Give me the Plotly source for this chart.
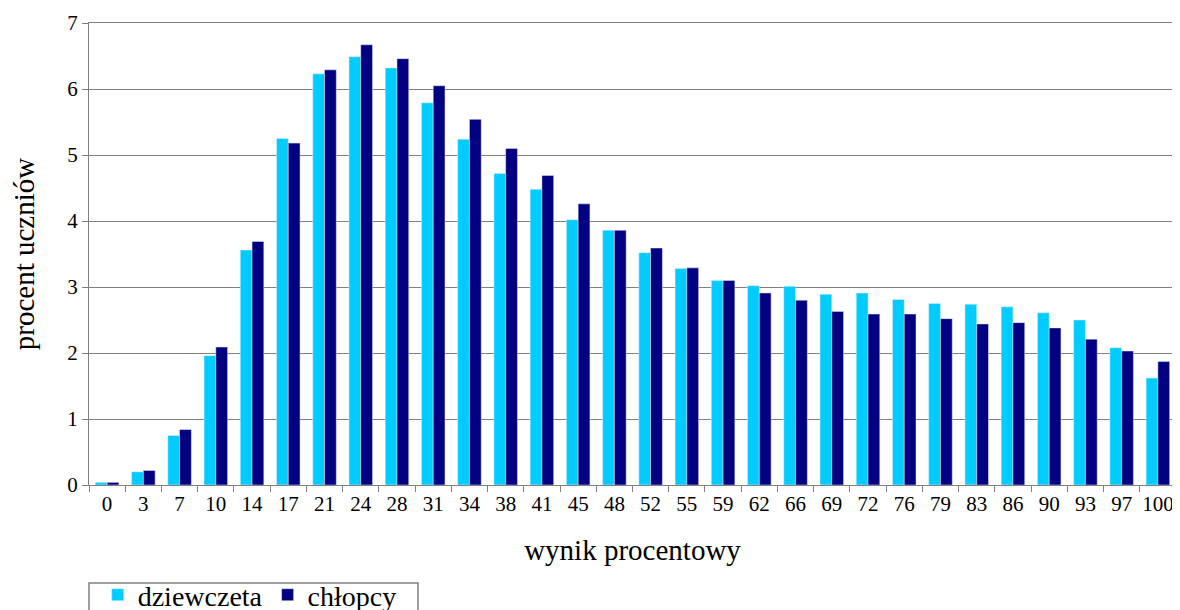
import plotly.graph_objects as go

# wynik procentowy (x categories)
wyniki = ["0", "3", "7", "10", "14", "17", "21", "24", "28", "31", "34", "38", "41", "45", "48",
          "52", "55", "59", "62", "66", "69", "72", "76", "79", "83", "86", "90", "93", "97", "100"]

# procent uczniów
dziewczeta = [0.04, 0.20, 0.75, 1.96, 3.56, 5.25, 6.23, 6.49, 6.32, 5.79, 5.24, 4.72, 4.48, 4.02, 3.86,
              3.52, 3.28, 3.10, 3.02, 3.01, 2.89, 2.91, 2.81, 2.75, 2.74, 2.70, 2.61, 2.50, 2.08, 1.62]
chlopcy = [0.04, 0.22, 0.84, 2.09, 3.69, 5.18, 6.29, 6.67, 6.46, 6.05, 5.54, 5.10, 4.69, 4.26, 3.86,
           3.59, 3.29, 3.10, 2.91, 2.80, 2.63, 2.59, 2.59, 2.52, 2.44, 2.46, 2.38, 2.21, 2.03, 1.87]

FONT = "Liberation Serif, Times New Roman, serif"

fig = go.Figure()
fig.add_trace(go.Bar(x=wyniki, y=dziewczeta, name="dziewczeta", marker_color="#00CCFF"))
fig.add_trace(go.Bar(x=wyniki, y=chlopcy, name="chłopcy", marker_color="#000080"))

# the page is drawn with an 8px body margin, so positions are shifted by that
fig.update_layout(
    width=1180, height=610,
    margin=dict(l=81, r=12, t=15, b=133, autoexpand=False),
    paper_bgcolor="white", plot_bgcolor="white",
    barmode="group", bargap=0.35, bargroupgap=0,
    font=dict(family=FONT, size=19, color="black"),
    showlegend=True,
    legend=dict(
        orientation="h", x=0.008, xanchor="left", y=-0.184, yanchor="top",
        borderwidth=0, bgcolor="rgba(0,0,0,0)",
        font=dict(family=FONT, size=28, color="black"),
        itemwidth=30, tracegroupgap=0,
    ),
    # box round the legend, cut by the lower edge as in the source
    shapes=[dict(type="rect", xref="paper", yref="paper", x0=0.0, x1=0.3027, y0=-0.32, y1=-0.2121,
                 line=dict(color="#808080", width=1.5), fillcolor="rgba(0,0,0,0)", layer="below")],
)
fig.update_xaxes(
    type="category", tickson="boundaries", ticks="outside", ticklen=6, tickcolor="#808080",
    showline=True, linecolor="#808080", linewidth=1, mirror=True, showgrid=False,
    automargin=False, tickangle=0,
    tickfont=dict(family=FONT, size=21),
    title=dict(text="wynik procentowy", font=dict(family=FONT, size=29), standoff=24),
)
fig.update_yaxes(
    range=[0, 7], dtick=1, ticks="outside", ticklen=6, tickcolor="#808080",
    showline=True, linecolor="#808080", linewidth=1, mirror=True,
    showgrid=True, gridcolor="#808080", gridwidth=1, zeroline=False,
    automargin=False,
    tickfont=dict(family=FONT, size=21),
    title=dict(text="procent uczniów", font=dict(family=FONT, size=29), standoff=30),
)

fig.write_html("out.html")
